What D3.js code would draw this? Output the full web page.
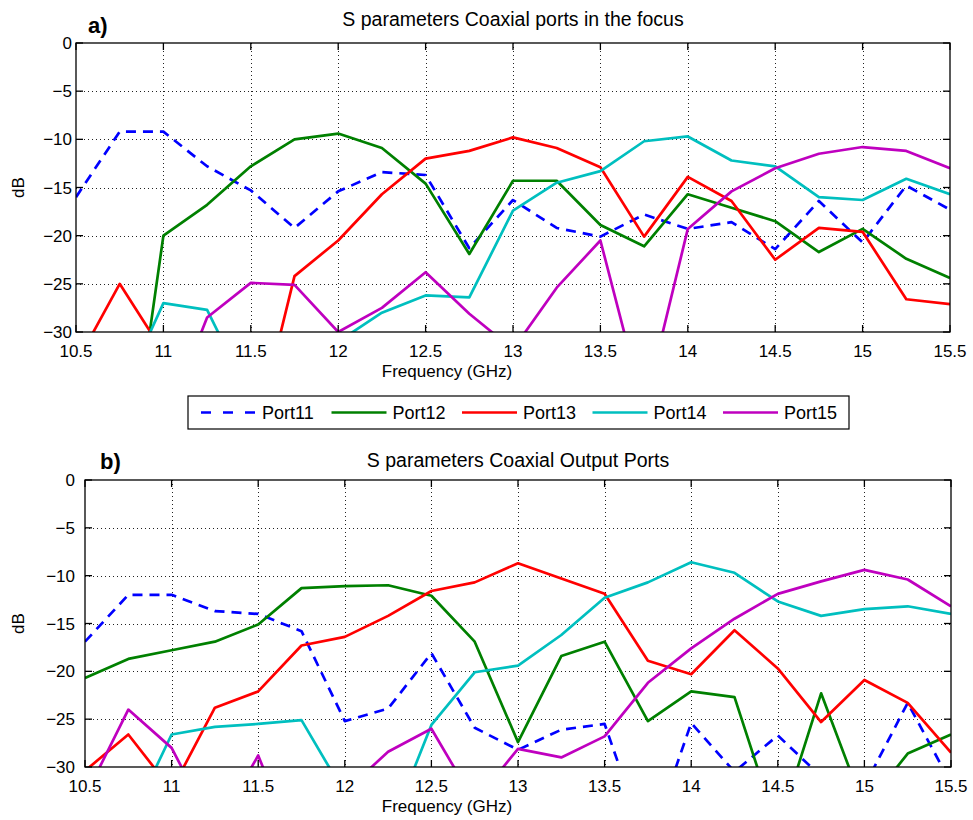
<!DOCTYPE html>
<html>
<head>
<meta charset="utf-8">
<script src="https://cdn.jsdelivr.net/npm/d3@7"></script>
<style>
  html, body { margin: 0; padding: 0; background: #fff; }
  svg { display: block; font-family: "Liberation Sans", Arial, sans-serif; }
</style>
</head>
<body>
<svg id="chart" width="973" height="820"></svg>
<script>
// Frequency samples (GHz)
const freq = [10.5, 10.75, 11, 11.25, 11.5, 11.75, 12, 12.25, 12.5, 12.75, 13,
              13.25, 13.5, 13.75, 14, 14.25, 14.5, 14.75, 15, 15.25, 15.5];

const xTicks = [10.5, 11, 11.5, 12, 12.5, 13, 13.5, 14, 14.5, 15, 15.5];
const yTicks = [0, -5, -10, -15, -20, -25, -30];

const portNames = ["Port11", "Port12", "Port13", "Port14", "Port15"];
const portColors = ["#0000ff", "#008000", "#ff0000", "#00bfbf", "#bf00bf"];

// a) ports in the focus, dB
const a11 = [-16.0, -9.2, -9.2, -12.8, -15.3, -19.2, -15.4, -13.4, -13.7, -21.3, -16.3,
             -19.2, -20.1, -17.8, -19.3, -18.6, -21.4, -16.4, -20.7, -14.8, -17.3];
const a12 = [-45, -52, -20.0, -16.8, -12.8, -10.0, -9.4, -10.9, -14.6, -21.9, -14.3,
             -14.3, -18.9, -21.1, -15.7, -17.1, -18.5, -21.7, -19.3, -22.4, -24.4];
const a13 = [-33.3, -25.0, -32.1, -38, -42.7, -24.2, -20.5, -15.7, -12.0, -11.2, -9.8,
             -10.9, -12.9, -20.1, -13.9, -16.4, -22.5, -19.2, -19.6, -26.6, -27.1];
const a14 = [-40, -37, -27.0, -27.7, -36.9, -30.3, -31, -28.0, -26.2, -26.4, -17.4,
             -14.5, -13.3, -10.2, -9.7, -12.2, -12.8, -16.0, -16.3, -14.1, -15.7];
const a15 = [-40, -42, -40, -28.5, -24.9, -25.1, -30.0, -27.5, -23.8, -28.1, -31.8,
             -25.4, -20.5, -38, -19.3, -15.4, -13.0, -11.5, -10.8, -11.2, -13.0];

// b) output ports, dB
const b11 = [-16.9, -12.0, -12.0, -13.7, -14.0, -15.8, -25.2, -23.9, -18.1, -25.9, -28.2,
             -26.1, -25.5, -38.5, -25.4, -30.5, -26.7, -31, -32, -23.3, -31.7];
const b12 = [-20.7, -18.7, -17.8, -16.9, -15.1, -11.3, -11.1, -11.0, -12.1, -16.9, -27.4,
             -18.4, -16.9, -25.2, -22.1, -22.7, -36.6, -22.3, -34.3, -28.6, -26.6];
const b13 = [-30.4, -26.6, -32.4, -23.8, -22.1, -17.3, -16.4, -14.2, -11.6, -10.7, -8.7,
             -10.3, -11.9, -18.9, -20.3, -15.7, -19.7, -25.3, -20.9, -23.3, -28.5];
const b14 = [-40, -36.1, -26.6, -25.8, -25.5, -25.1, -32.8, -37, -25.6, -20.1, -19.4,
             -16.2, -12.3, -10.7, -8.6, -9.7, -12.7, -14.2, -13.5, -13.2, -14.0];
const b15 = [-33.1, -24.0, -28.0, -36.7, -28.8, -40, -32.6, -28.4, -26.0, -33.7, -28.1,
             -29.0, -26.8, -21.2, -17.6, -14.5, -11.9, -10.6, -9.4, -10.4, -13.2];

const panels = [
  { id: "a", tag: "a)", title: "S parameters Coaxial ports in the focus",
    series: [a11, a12, a13, a14, a15], titleY: 26, tagY: 33,
    left: 76, right: 950, top: 43, bottom: 332, tagX: 88, ylabEnd: 72 },
  { id: "b", tag: "b)", title: "S parameters Coaxial Output Ports",
    series: [b11, b12, b13, b14, b15], titleY: 467, tagY: 469,
    left: 85, right: 951, top: 480, bottom: 767, tagX: 100, ylabEnd: 75 }
];

const svg = d3.select("#chart");

panels.forEach(p => {
  const x = d3.scaleLinear().domain([10.5, 15.5]).range([p.left, p.right]);
  const y = d3.scaleLinear().domain([-30, 0]).range([p.bottom, p.top]);
  const g = svg.append("g");

  // dotted grid
  const grid = g.append("g").attr("stroke", "#222").attr("stroke-width", 1)
    .attr("stroke-dasharray", "1,3").attr("shape-rendering", "crispEdges");
  xTicks.slice(1, -1).forEach(t => {
    grid.append("line").attr("x1", Math.round(x(t)) + 0.5).attr("x2", Math.round(x(t)) + 0.5)
      .attr("y1", p.top).attr("y2", p.bottom);
  });
  yTicks.slice(1, -1).forEach(t => {
    grid.append("line").attr("y1", Math.round(y(t)) + 0.5).attr("y2", Math.round(y(t)) + 0.5)
      .attr("x1", p.left).attr("x2", p.right);
  });

  // clipped series
  const clipId = "clip-" + p.id;
  svg.append("defs").append("clipPath").attr("id", clipId)
    .append("rect").attr("x", p.left).attr("y", p.top)
    .attr("width", p.right - p.left).attr("height", p.bottom - p.top);

  const line = d3.line().x((d, i) => x(freq[i])).y(d => y(d));
  const lines = g.append("g").attr("clip-path", `url(#${clipId})`);
  p.series.forEach((s, k) => {
    lines.append("path").datum(s).attr("d", line)
      .attr("fill", "none").attr("stroke", portColors[k])
      .attr("stroke-width", 2.7).attr("stroke-linejoin", "round")
      .attr("stroke-dasharray", k === 0 ? "10,7" : null);
  });

  // axes frame with inward ticks
  const axisG = g.append("g").attr("stroke", "#000").attr("stroke-width", 1.3);
  axisG.append("rect").attr("x", p.left).attr("y", p.top)
    .attr("width", p.right - p.left).attr("height", p.bottom - p.top).attr("fill", "none");
  const tl = 7;
  xTicks.forEach(t => {
    axisG.append("line").attr("x1", x(t)).attr("x2", x(t)).attr("y1", p.bottom).attr("y2", p.bottom - tl);
    axisG.append("line").attr("x1", x(t)).attr("x2", x(t)).attr("y1", p.top).attr("y2", p.top + tl);
  });
  yTicks.forEach(t => {
    axisG.append("line").attr("y1", y(t)).attr("y2", y(t)).attr("x1", p.left).attr("x2", p.left + tl);
    axisG.append("line").attr("y1", y(t)).attr("y2", y(t)).attr("x1", p.right).attr("x2", p.right - tl);
  });

  // tick labels
  const lab = g.append("g").attr("font-size", 17).attr("fill", "#000");
  xTicks.forEach(t => {
    lab.append("text").attr("x", x(t)).attr("y", p.bottom + 25)
      .attr("text-anchor", "middle").text(String(t));
  });
  yTicks.forEach(t => {
    lab.append("text").attr("x", p.ylabEnd).attr("y", y(t) + 6)
      .attr("text-anchor", "end").text(t === 0 ? "0" : "\u2212" + Math.abs(t));
  });

  // axis titles
  g.append("text").attr("x", 447).attr("y", p.bottom + 45)
    .attr("text-anchor", "middle").attr("font-size", 17).text("Frequency (GHz)");
  g.append("text")
    .attr("transform", `translate(24,${(p.top + p.bottom) / 2}) rotate(-90)`)
    .attr("text-anchor", "middle").attr("font-size", 17).text("dB");

  // panel title and tag
  g.append("text").attr("x", (p.left + p.right) / 2).attr("y", p.titleY)
    .attr("text-anchor", "middle").attr("font-size", 19.5).text(p.title);
  g.append("text").attr("x", p.tagX).attr("y", p.tagY)
    .attr("font-size", 22).attr("font-weight", "bold").text(p.tag);
});

// legend
const leg = svg.append("g");
leg.append("rect").attr("x", 188).attr("y", 396).attr("width", 661).attr("height", 33)
  .attr("fill", "#fff").attr("stroke", "#000").attr("stroke-width", 1.2);
portNames.forEach((name, k) => {
  const x0 = 201 + k * 130.5;
  leg.append("line").attr("x1", x0).attr("x2", x0 + 55).attr("y1", 412.5).attr("y2", 412.5)
    .attr("stroke", portColors[k]).attr("stroke-width", 2.7)
    .attr("stroke-dasharray", k === 0 ? "10,12" : null);
  leg.append("text").attr("x", x0 + 61).attr("y", 419).attr("font-size", 18).text(name);
});
</script>
</body>
</html>
